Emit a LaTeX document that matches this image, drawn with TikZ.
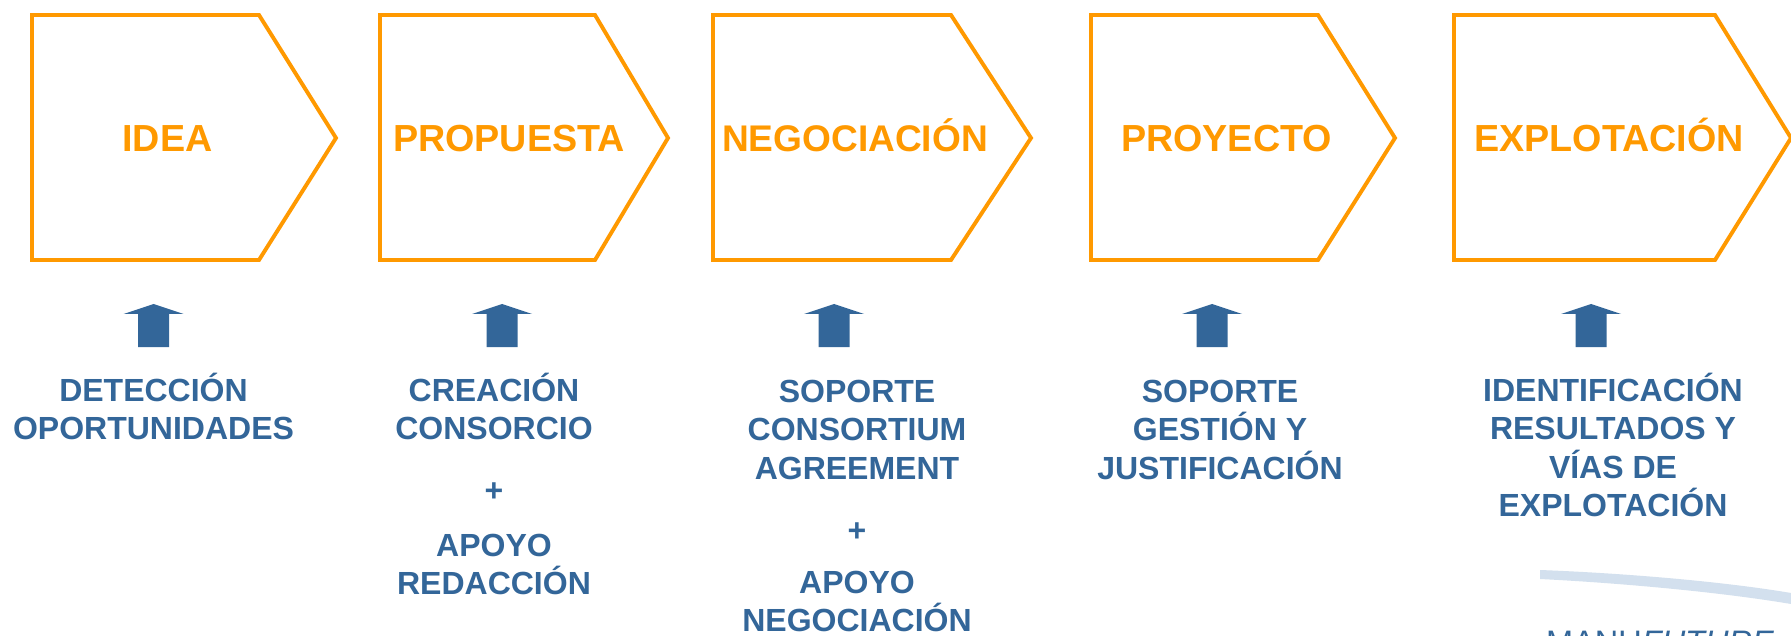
\documentclass[tikz,border=0pt]{standalone}
\usepackage{fontspec}
\setmainfont{Liberation Sans}
\definecolor{org}{HTML}{FF9900}
\definecolor{blu}{HTML}{336699}
\definecolor{swoosh}{HTML}{D3E0EE}
\tikzset{x=1pt,y=-1pt,
 stage/.style={draw=org,line width=3.9pt,miter limit=10},
 stagetxt/.style={text=org,font=\fontsize{37.7}{37.7}\selectfont\bfseries,inner sep=0pt,anchor=base},
 uparrow/.style={fill=blu,draw=none},
 desc/.style={text=blu,font=\fontsize{32}{38.4}\selectfont\bfseries,align=center,inner sep=0pt,anchor=north}}
\begin{document}
\begin{tikzpicture}
\useasboundingbox (0,0) rectangle (1791,636);
\clip (0,0) rectangle (1791,636);
\fill[white] (0,0) rectangle (1791,636);
\draw[stage] (32,15)--(259,15)--(336,138)--(259,260)--(32,260)--cycle;
\draw[stage] (380,15)--(595,15)--(668,138)--(595,260)--(380,260)--cycle;
\draw[stage] (713,15)--(951,15)--(1031,138)--(951,260)--(713,260)--cycle;
\draw[stage] (1091,15)--(1318,15)--(1395,138)--(1318,260)--(1091,260)--cycle;
\draw[stage] (1454,15)--(1715,15)--(1791,138)--(1715,260)--(1454,260)--cycle;
\node[stagetxt] (s1) at (167.5,152) {IDEA};
\node[stagetxt] (s2) at (509,152) {PROPUESTA};
\node[stagetxt,font=\fontsize{37.1}{37.1}\selectfont\bfseries] (s3) at (855,152) {NEGOCIACIÓN};
\node[stagetxt] (s4) at (1226.5,152) {PROYECTO};
\node[stagetxt] (s5) at (1609,152) {EXPLOTACIÓN};
\foreach \c in {153.5,502,834,1212,1591}{
 \fill[uparrow] (\c-30,314)--(\c,304)--(\c+30,314)--(\c+15.5,314)--(\c+15.5,347)--(\c-15.5,347)--(\c-15.5,314)--cycle;
}
\node[desc] (d1) at (153.5,373) {DETECCIÓN\\OPORTUNIDADES};
\node[desc] (d2) at (494,373) {CREACIÓN\\CONSORCIO};
\node[desc] (p2) at (494,483) {+};
\node[desc] (e2) at (494,534) {APOYO\\REDACCIÓN};
\node[desc] (d3) at (857,380) {SOPORTE\\CONSORTIUM\\AGREEMENT};
\node[desc] (p3) at (857,523) {+};
\node[desc] (e3) at (857,571) {APOYO\\NEGOCIACIÓN};
\node[desc] (d4) at (1220,380) {SOPORTE\\GESTIÓN Y\\JUSTIFICACIÓN};
\node[desc] (d5) at (1613,373) {IDENTIFICACIÓN\\RESULTADOS Y\\VÍAS DE\\EXPLOTACIÓN};
\fill[swoosh] (1540,570)..controls (1620,573) and (1720,581)..(1791,593)--(1791,604)..controls (1720,592) and (1620,583)..(1540,579)--cycle;
\node[text=blu,font=\fontsize{32.5}{32.5}\selectfont,inner sep=0pt,anchor=base west] (logo) at (1546,653) {MANU\textit{FUTURE}};
\end{tikzpicture}
\end{document}
